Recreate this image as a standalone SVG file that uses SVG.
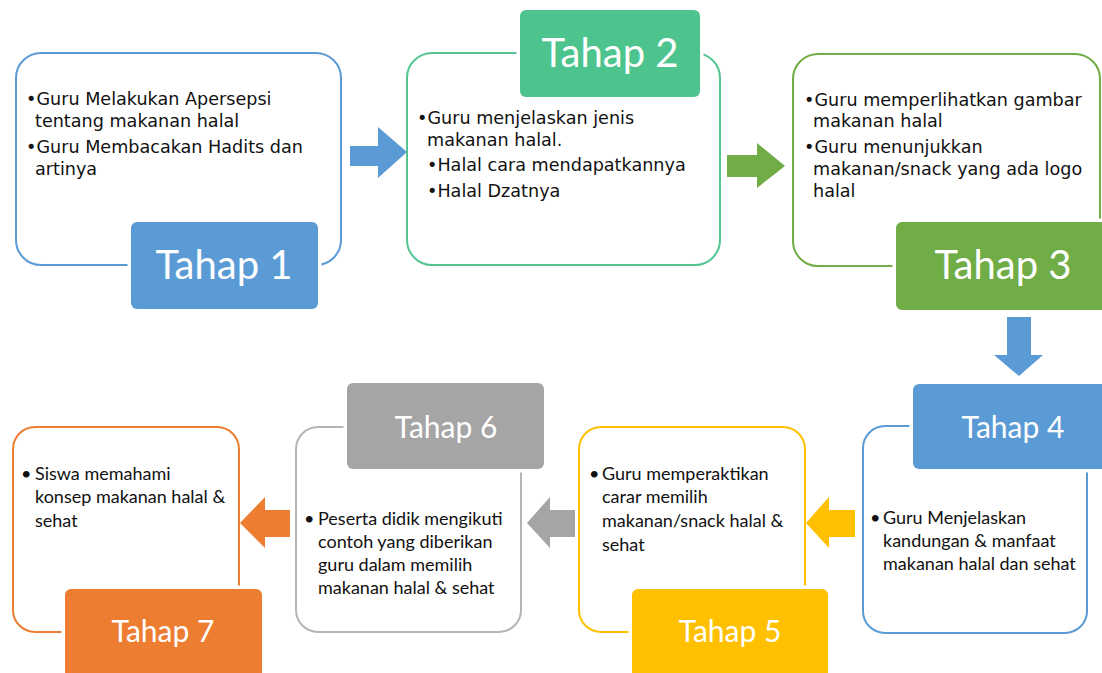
<svg xmlns="http://www.w3.org/2000/svg" width="1102" height="673" viewBox="0 0 1102 673">
<style>
.box{fill:#fff;stroke-width:2}
.lbl{stroke:#fff;stroke-width:7;paint-order:stroke}
.t1{font-family:"DejaVu Sans",Verdana,sans-serif;font-size:17.6px;fill:#111}
.t2{font-family:Lato,"Open Sans",sans-serif;font-size:18px;fill:#111}
.h1{font-family:Lato,"Open Sans",sans-serif;font-size:40px;fill:#fff;text-anchor:middle}
.h2{font-family:Lato,"Open Sans",sans-serif;font-size:30px;fill:#fff;text-anchor:middle}
</style>
<rect width="1102" height="673" fill="#fff"/>
<g id="connectors">
<polygon points="350,146 378,146 378,127 407,152 378,178 378,166 350,166" fill="#5b9bd5"/>
<polygon points="727,155 757,155 757,143 785,166 757,188 757,177 727,177" fill="#70ad47"/>
<polygon points="1007,317 1031,317 1031,355 1043,355 1019,376 994,355 1007,355" fill="#5b9bd5"/>
<polygon points="855,510 829,510 829,497 806,523 829,548 829,537 855,537" fill="#ffc000"/>
<polygon points="575,510 550,510 550,497 527,523 550,548 550,537 575,537" fill="#a5a5a5"/>
<polygon points="290,510 265,510 265,497 240,523 265,548 265,537 290,537" fill="#ed7d31"/>
</g>
<g id="tahap1">
<rect class="box" x="16" y="53" width="325" height="212" rx="25" stroke="#5b9bd5"/>
<rect class="lbl" x="131" y="222" width="187" height="87" rx="6" fill="#5b9bd5"/>
<text class="h1" x="224" y="279">Tahap 1</text>
<text class="t1" x="26" y="105">•Guru Melakukan Apersepsi</text>
<text class="t1" x="35" y="127">tentang makanan halal</text>
<text class="t1" x="26" y="153">•Guru Membacakan Hadits dan</text>
<text class="t1" x="35" y="175">artinya</text>
</g>
<g id="tahap2">
<rect class="box" x="407" y="53" width="313" height="212" rx="25" stroke="#55c692"/>
<rect class="lbl" x="520" y="10" width="180" height="87" rx="6" fill="#4dc48d"/>
<text class="h1" x="610" y="67">Tahap 2</text>
<text class="t1" x="417" y="124">•Guru menjelaskan jenis</text>
<text class="t1" x="427" y="146">makanan halal.</text>
<text class="t1" x="427" y="171">•Halal cara mendapatkannya</text>
<text class="t1" x="427" y="197">•Halal Dzatnya</text>
</g>
<g id="tahap3">
<rect class="box" x="793" y="54" width="307" height="212" rx="25" stroke="#70ad47"/>
<rect class="lbl" x="896" y="222" width="210" height="88" rx="6" fill="#70ad47"/>
<text class="h1" x="1003" y="279">Tahap 3</text>
<text class="t1" x="804" y="106">•Guru memperlihatkan gambar</text>
<text class="t1" x="813" y="127">makanan halal</text>
<text class="t1" x="804" y="153">•Guru menunjukkan</text>
<text class="t1" x="813" y="175">makanan/snack yang ada logo</text>
<text class="t1" x="813" y="197">halal</text>
</g>
<g id="tahap4">
<rect class="box" x="863" y="426" width="224" height="207" rx="22" stroke="#5b9bd5"/>
<rect class="lbl" x="913" y="384" width="195" height="85" rx="6" fill="#5b9bd5"/>
<text class="h2" x="1013" y="438">Tahap 4</text>
<text class="t2" x="870" y="524">•</text>
<text class="t2" x="883" y="524">Guru Menjelaskan</text>
<text class="t2" x="883" y="547">kandungan &amp; manfaat</text>
<text class="t2" x="883" y="570">makanan halal dan sehat</text>
</g>
<g id="tahap5">
<rect class="box" x="579" y="427" width="226" height="205" rx="22" stroke="#ffc000"/>
<rect class="lbl" x="632" y="589" width="196" height="95" rx="6" fill="#ffc000"/>
<text class="h2" x="730" y="642">Tahap 5</text>
<text class="t2" x="589" y="480">•</text>
<text class="t2" x="602" y="480">Guru memperaktikan</text>
<text class="t2" x="602" y="503">carar memilih</text>
<text class="t2" x="602" y="527">makanan/snack halal &amp;</text>
<text class="t2" x="602" y="551">sehat</text>
</g>
<g id="tahap6">
<rect class="box" x="296" y="427" width="225" height="205" rx="22" stroke="#b4b4b4"/>
<rect class="lbl" x="347" y="383" width="197" height="86" rx="6" fill="#a5a5a5"/>
<text class="h2" x="446" y="438">Tahap 6</text>
<text class="t2" x="304" y="525">•</text>
<text class="t2" x="318" y="525">Peserta didik mengikuti</text>
<text class="t2" x="318" y="548">contoh yang diberikan</text>
<text class="t2" x="318" y="571">guru dalam memilih</text>
<text class="t2" x="318" y="594">makanan halal &amp; sehat</text>
</g>
<g id="tahap7">
<rect class="box" x="13" y="427" width="226" height="205" rx="22" stroke="#ed7d31"/>
<rect class="lbl" x="65" y="589" width="197" height="95" rx="6" fill="#ed7d31"/>
<text class="h2" x="163" y="642">Tahap 7</text>
<text class="t2" x="21" y="480">•</text>
<text class="t2" x="35" y="480">Siswa memahami</text>
<text class="t2" x="35" y="503">konsep makanan halal &amp;</text>
<text class="t2" x="35" y="527">sehat</text>
</g>
</svg>
